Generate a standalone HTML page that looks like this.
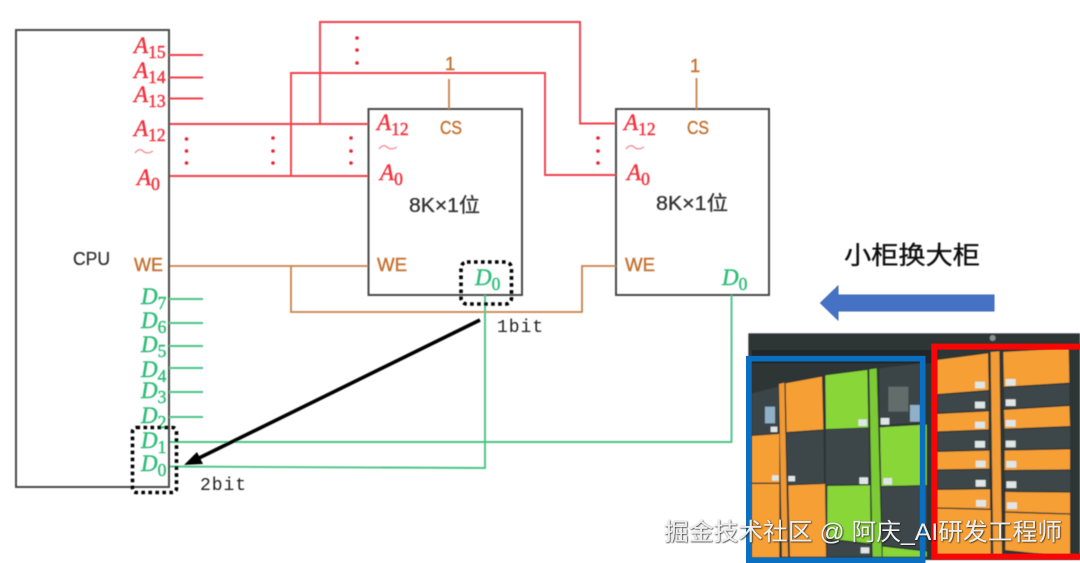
<!DOCTYPE html>
<html><head><meta charset="utf-8"><style>
html,body{margin:0;padding:0;background:#fff;width:1080px;height:563px;overflow:hidden}
svg{display:block}
.m{font-family:"Liberation Serif",serif;font-style:italic;font-size:23px;stroke-width:.45px}
.s{font-family:"Liberation Serif",serif;font-style:normal;font-size:17.500px}
.t{font-family:"Liberation Sans","Noto Sans CJK SC",sans-serif}
.r{fill:#f2323f;stroke:#f2323f}.g{fill:#2fbd78;stroke:#2fbd78}
.c{font-family:"Liberation Mono",monospace;font-size:18px;fill:#222}
</style></head><body>
<svg width="1080" height="563" viewBox="0 0 1080 563" xmlns="http://www.w3.org/2000/svg">
<defs><filter id="bl" x="-5%" y="-5%" width="110%" height="110%"><feGaussianBlur stdDeviation="0.45"/></filter>
<filter id="bl2" x="-5%" y="-5%" width="110%" height="110%"><feGaussianBlur stdDeviation="1.2"/></filter>
<filter id="sh" x="-5%" y="-20%" width="110%" height="140%"><feDropShadow dx="0.6" dy="0.6" stdDeviation="0.7" flood-color="#111" flood-opacity="1"/></filter></defs>
<g filter="url(#bl)">
<!-- boxes -->
<g fill="none" stroke="#4a4a4a" stroke-width="2">
<rect x="16" y="30" width="153" height="457"/>
<rect x="368.500" y="109" width="153.500" height="186"/>
<rect x="616" y="109" width="153" height="186"/>
</g>
<!-- red wires -->
<g fill="none" stroke="#f0404c" stroke-width="1.900">
<path d="M169 55H203M169 77.500H203M169 98.500H203"/>
<path d="M170 124H368M170 176H368"/>
<path d="M291 176V73H545V175H616"/>
<path d="M320 124V22H580V123.500H616"/>
</g>
<!-- red dots -->
<g fill="#e8202f">
<circle cx="186.500" cy="139" r="1.800"/><circle cx="186.500" cy="151" r="1.800"/><circle cx="186.500" cy="163" r="1.800"/>
<circle cx="273" cy="138" r="1.800"/><circle cx="273" cy="151" r="1.800"/><circle cx="273" cy="163" r="1.800"/>
<circle cx="351" cy="138" r="1.800"/><circle cx="351" cy="151" r="1.800"/><circle cx="351" cy="163" r="1.800"/>
<circle cx="357" cy="38" r="1.800"/><circle cx="357" cy="50" r="1.800"/><circle cx="357" cy="63" r="1.800"/>
<circle cx="598" cy="138" r="1.800"/><circle cx="598" cy="151" r="1.800"/><circle cx="598" cy="163" r="1.800"/>
</g>
<!-- brown wires -->
<g fill="none" stroke="#c9814a" stroke-width="1.800">
<path d="M170 266H368"/>
<path d="M291 266V312H582V266H616"/>
<path d="M449 79V109M696.500 78V109"/>
</g>
<!-- green wires -->
<g fill="none" stroke="#4cc488" stroke-width="1.900">
<path d="M169 299H203M169 323H203M169 346H203M169 368H203M169 392H203M169 417H203"/>
<path d="M170 442H731.500V295"/>
<path d="M170 466.500L485 468V295"/>
</g>
<!-- pin labels -->
<g class="m r">
<text x="134" y="53">A<tspan class="s" dy="5">15</tspan></text>
<text x="134" y="78">A<tspan class="s" dy="5">14</tspan></text>
<text x="134" y="102">A<tspan class="s" dy="5">13</tspan></text>
<text x="134" y="136">A<tspan class="s" dy="5">12</tspan></text>
<text x="137" y="185">A<tspan class="s" dy="5">0</tspan></text>
<text x="377" y="130">A<tspan class="s" dy="5">12</tspan></text>
<text x="380" y="180">A<tspan class="s" dy="5">0</tspan></text>
<text x="624" y="130">A<tspan class="s" dy="5">12</tspan></text>
<text x="627" y="180">A<tspan class="s" dy="5">0</tspan></text>
</g>
<g fill="none" stroke="#f08a92" stroke-width="1.300">
<path d="M135 153c3-4 6-4 8-2s5 3 10 0"/>
<path d="M379 149c3-4 6-4 8-2s5 3 10 0"/>
<path d="M626 149c3-4 6-4 8-2s5 3 10 0"/>
</g>
<g class="m g">
<text x="141" y="304">D<tspan class="s" dy="5">7</tspan></text>
<text x="141" y="328">D<tspan class="s" dy="5">6</tspan></text>
<text x="141" y="352">D<tspan class="s" dy="5">5</tspan></text>
<text x="141" y="377">D<tspan class="s" dy="5">4</tspan></text>
<text x="141" y="398">D<tspan class="s" dy="5">3</tspan></text>
<text x="141" y="423">D<tspan class="s" dy="5">2</tspan></text>
<text x="141" y="448">D<tspan class="s" dy="5">1</tspan></text>
<text x="141" y="471">D<tspan class="s" dy="5">0</tspan></text>
<text x="475" y="285">D<tspan class="s" dy="5">0</tspan></text>
<text x="722" y="285">D<tspan class="s" dy="5">0</tspan></text>
</g>
<g class="t" font-size="18.500" fill="#c4712f" stroke="#c4712f" stroke-width=".4">
<text x="134" y="271" textLength="29" lengthAdjust="spacingAndGlyphs">WE</text>
<text x="377" y="271" textLength="30" lengthAdjust="spacingAndGlyphs">WE</text>
<text x="625" y="271" textLength="30" lengthAdjust="spacingAndGlyphs">WE</text>
<text x="440" y="134" textLength="22" lengthAdjust="spacingAndGlyphs">CS</text>
<text x="687" y="134" textLength="22" lengthAdjust="spacingAndGlyphs">CS</text>
<text x="445" y="70">1</text>
<text x="690" y="72">1</text>
</g>
<g class="t" fill="#333" stroke="#333" stroke-width=".3">
<text x="73" y="265" font-size="18.500" textLength="37" lengthAdjust="spacingAndGlyphs">CPU</text>
<text x="409" y="212" font-size="20" textLength="71" lengthAdjust="spacingAndGlyphs">8K×1位</text>
<text x="656" y="210" font-size="20" textLength="72" lengthAdjust="spacingAndGlyphs">8K×1位</text>
</g>
<text class="c" x="497" y="332" textLength="46">1bit</text>
<text class="c" x="200" y="490" textLength="46">2bit</text>
<!-- dotted boxes -->
<g fill="none" stroke="#000" stroke-width="3.600" stroke-dasharray="3.600 3.400">
<rect x="132.500" y="427.500" width="44" height="65" rx="4"/>
<rect x="461" y="262" width="50.500" height="42" rx="6"/>
</g>
<!-- black arrow -->
<line x1="480" y1="320" x2="195" y2="460" stroke="#000" stroke-width="3.600"/>
<polygon points="184,465 197,452 203,464" fill="#000"/>
<!-- title -->
<text class="t" x="844" y="264" font-size="25" fill="#111" stroke="#111" stroke-width=".35" textLength="136" lengthAdjust="spacingAndGlyphs">小柜换大柜</text>
<!-- blue arrow -->
<polygon points="820.500,303 838,286 838,295 994,295 994,311 838,311 838,320" fill="#4472c4" stroke="#3f69b3" stroke-width="1"/>
</g>
<!-- photo -->
<g transform="translate(740 330) scale(.33333)">
<g filter="url(#bl2)">
<rect x="25" y="10" width="995" height="680" fill="#2d3436"/>
<!-- left cluster -->
<polygon points="36,190 115,170 115,310 36,315" fill="#3a4446"/>
<polygon points="36,318 118,312 118,458 36,458" fill="#f59f35"/>
<rect x="36" y="462" width="82" height="220" fill="#f59f35"/>
<polygon points="117,162 133,158 144,680 126,680" fill="#f09a35"/>
<polygon points="137,160 246,140 250,298 140,306" fill="#f59f35"/>
<polygon points="140,310 250,302 252,460 143,462" fill="#3d4749"/>
<polygon points="145,466 255,462 258,680 150,680" fill="#f59f35"/>
<polygon points="256,136 382,120 385,292 258,297" fill="#88d637"/>
<polygon points="258,300 386,294 388,462 258,464" fill="#3d4749"/>
<polygon points="262,468 390,466 392,640 262,625" fill="#88d637"/>
<polygon points="262,630 392,645 392,680 262,680" fill="#3d4749"/>
<polygon points="388,118 410,115 425,680 398,680" fill="#7ccb35"/>
<polygon points="418,115 540,100 540,278 420,285" fill="#3a4446"/>
<polygon points="420,292 560,284 560,465 424,468" fill="#88d637"/>
<polygon points="424,472 560,468 560,660 428,645" fill="#3d4749"/>
<polygon points="428,650 560,665 560,680 428,680" fill="#88d637"/>
<rect x="445" y="170" width="60" height="75" fill="#8a9490" opacity=".5"/>
<rect x="510" y="225" width="30" height="50" fill="#8fb0c8"/>
<rect x="75" y="230" width="30" height="50" fill="#8fb0c8"/>
<rect x="36" y="60" width="540" height="40" fill="#232829"/>
<!-- right cluster -->
<polygon points="592,90 744,70 746,180 592,192" fill="#f59f35"/>
<polygon points="592,196 746,184 746,240 592,248" fill="#3d4749"/>
<polygon points="592,252 746,244 746,298 592,304" fill="#f59f35"/>
<polygon points="592,308 746,302 746,358 592,362" fill="#3d4749"/>
<polygon points="592,366 748,362 748,416 592,418" fill="#f59f35"/>
<polygon points="592,422 748,420 748,474 592,476" fill="#3d4749"/>
<polygon points="592,480 750,478 750,536 592,532" fill="#f59f35"/>
<polygon points="592,536 752,540 752,680 592,680" fill="#f59f35"/>
<polygon points="752,66 778,64 786,680 760,680" fill="#f39c35"/>
<polygon points="790,66 986,55 988,158 792,170" fill="#f59f35"/>
<polygon points="792,174 988,162 988,224 792,236" fill="#3d4749"/>
<polygon points="792,240 988,228 990,288 794,296" fill="#f59f35"/>
<polygon points="794,300 990,292 990,354 794,358" fill="#3d4749"/>
<polygon points="794,362 990,358 990,418 794,420" fill="#f59f35"/>
<polygon points="794,424 990,422 990,484 796,482" fill="#3d4749"/>
<polygon points="796,486 990,488 990,550 796,544" fill="#f59f35"/>
<polygon points="796,548 990,554 990,680 796,660" fill="#f59f35"/>
<g fill="#dfe6e6">
<rect x="705" y="155" width="30" height="20"/><rect x="797" y="147" width="30" height="20"/>
<rect x="705" y="215" width="30" height="20"/><rect x="797" y="208" width="30" height="20"/>
<rect x="705" y="275" width="30" height="20"/><rect x="797" y="270" width="30" height="20"/>
<rect x="705" y="333" width="30" height="20"/><rect x="797" y="332" width="30" height="20"/>
<rect x="707" y="392" width="30" height="20"/><rect x="799" y="393" width="30" height="20"/>
<rect x="707" y="450" width="30" height="20"/><rect x="799" y="454" width="30" height="20"/>
<rect x="708" y="510" width="30" height="20"/><rect x="801" y="517" width="30" height="20"/>
<rect x="355" y="268" width="26" height="20"/><rect x="422" y="264" width="26" height="20"/>
<rect x="358" y="442" width="26" height="20"/><rect x="430" y="444" width="26" height="20"/>
<rect x="92" y="290" width="20" height="16"/><rect x="145" y="438" width="20" height="16"/>
<rect x="96" y="436" width="20" height="16"/><rect x="362" y="652" width="26" height="18"/>
</g>
<circle cx="758" cy="24" r="9" fill="#8a8f8f"/>
</g>
<!-- colour frames -->
<path d="M26.500 691V86H548V691Z" fill="none" stroke="#0b6fc1" stroke-width="17"/>
<path d="M583 680V50H1030V680Z" fill="none" stroke="#f80606" stroke-width="18"/>
</g>
<!-- watermark -->
<text class="t" x="664" y="540" font-size="24" fill="#eeeeee" filter="url(#sh)" textLength="398" lengthAdjust="spacingAndGlyphs">掘金技术社区 @ 阿庆_AI研发工程师</text>
</svg>
</body></html>
